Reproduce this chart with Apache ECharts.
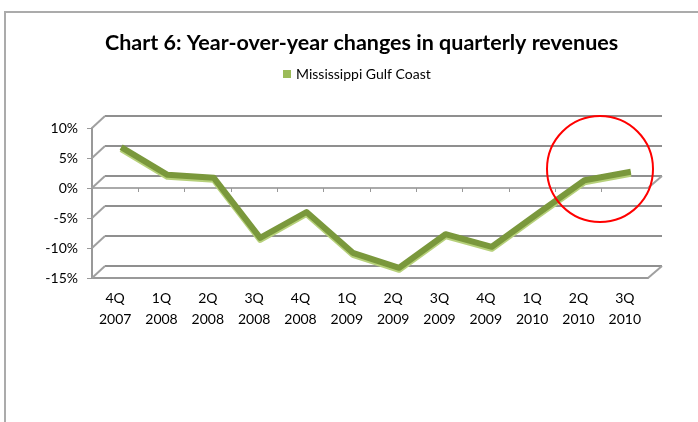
<!DOCTYPE html>
<html><head><meta charset="utf-8">
<script src="https://cdn.jsdelivr.net/npm/echarts@6/dist/echarts.min.js"></script>
<style>html,body{margin:0;padding:0;background:#fff}#c{width:698px;height:422px}</style>
</head><body><div id="c"></div>
<script>
const titleText = 'Chart 6: Year-over-year changes in quarterly revenues';
const seriesName = 'Mississippi Gulf Coast';
const categories = ['4Q\n2007','1Q\n2008','2Q\n2008','3Q\n2008','4Q\n2008','1Q\n2009','2Q\n2009','3Q\n2009','4Q\n2009','1Q\n2010','2Q\n2010','3Q\n2010'];
const yoyChange = [5.8, 1.2, 0.7, -9.3, -5.0, -11.8, -14.3, -8.7, -10.8, -5.2, 0.3, 1.7];
const yMin = -15, yMax = 10, yStep = 5;

const FONT = 'Lato';
const chart = echarts.init(document.getElementById('c'), null, {renderer:'canvas'});
const frontGrid = {left:92, top:128, width:556, height:150};
const backGrid  = {left:105, top:116, width:557, height:150};
const midGrid   = {left:98, top:122, width:556, height:150};
const hiddenY = (gi) => ({type:'value', gridIndex:gi, min:yMin, max:yMax, interval:yStep, show:false, splitLine:{show:false}});
const option = {
  animation:false,
  backgroundColor:'#fff',
  title:{text:titleText, left:100, top:27, textStyle:{fontFamily:FONT, fontWeight:'bold', fontSize:21.5, color:'#000'}},
  legend:{top:62, left:278, icon:'rect', itemWidth:8, itemHeight:8, itemGap:6,
    textStyle:{fontFamily:FONT, fontSize:14, color:'#000'},
    data:[{name:seriesName, itemStyle:{color:'#9BBB59'}}]},
  grid:[
    Object.assign({}, backGrid),
    Object.assign({}, midGrid),
    Object.assign({}, frontGrid),
    Object.assign({}, frontGrid)
  ],
  xAxis:[
    {type:'category', gridIndex:0, data:categories, show:false},
    {type:'category', gridIndex:1, data:categories, show:false},
    {type:'category', gridIndex:2, data:categories, boundaryGap:true,
      axisLine:{onZero:false, lineStyle:{color:'#999', width:2}}, axisTick:{show:false},
      axisLabel:{fontFamily:FONT, fontSize:14, color:'#000', lineHeight:21, margin:10, interval:0}},
    {type:'category', gridIndex:3, data:categories, boundaryGap:true,
      axisLine:{onZero:true, lineStyle:{color:'#aaa', width:2}},
      axisTick:{show:true, length:4, lineStyle:{color:'#999', width:1}}, axisLabel:{show:false}}
  ],
  yAxis:[
    {type:'value', gridIndex:0, min:yMin, max:yMax, interval:yStep,
      axisLine:{show:false}, axisTick:{show:false}, axisLabel:{show:false},
      splitLine:{show:true, lineStyle:{color:'#8f8f8f', width:2}}},
    hiddenY(1),
    {type:'value', gridIndex:2, min:yMin, max:yMax, interval:yStep,
      axisLine:{show:true, lineStyle:{color:'#999', width:2}},
      axisTick:{show:true, length:5, lineStyle:{color:'#999'}},
      axisLabel:{formatter:'{value}%', fontFamily:FONT, fontSize:14, color:'#000', margin:14},
      splitLine:{show:false}},
    hiddenY(3)
  ],
  series:[{
    name:seriesName, type:'line', xAxisIndex:1, yAxisIndex:1, data:yoyChange,
    showSymbol:false, symbol:'none', z:3,
    itemStyle:{color:'#9BBB59'},
    lineStyle:{color:'#7a983c', width:6, shadowColor:'#b6d07a', shadowOffsetY:2, shadowOffsetX:0, shadowBlur:0, join:'round'}
  }]
};
chart.setOption(option);

// 3D frame connectors derived from the axes
const g = [];
const yTicks = [];
for (let v = yMin; v <= yMax; v += yStep) yTicks.push(v);
const fr = frontGrid, bk = backGrid;
yTicks.forEach(v => {
  const yf = chart.convertToPixel({yAxisIndex:2}, v);
  const yb = chart.convertToPixel({yAxisIndex:0}, v);
  g.push({type:'line', shape:{x1:fr.left, y1:yf, x2:bk.left, y2:yb}, style:{stroke:'#a0a0a0', lineWidth:2}, z:10});
});
[0, yMin].forEach(v => {
  const yf = chart.convertToPixel({yAxisIndex:2}, v);
  const yb = chart.convertToPixel({yAxisIndex:0}, v);
  g.push({type:'line', shape:{x1:fr.left+fr.width, y1:yf, x2:bk.left+bk.width, y2:yb}, style:{stroke:'#a0a0a0', lineWidth:2}, z:10});
});
g.push({type:'rect', shape:{x:5, y:12, width:800, height:500}, style:{fill:'none', stroke:'#ababab', lineWidth:2}, z:20});
g.push({type:'circle', shape:{cx:600, cy:169, r:53}, style:{fill:'none', stroke:'#ff0000', lineWidth:2}, z:30});
chart.setOption({graphic:g});
</script></body></html>
